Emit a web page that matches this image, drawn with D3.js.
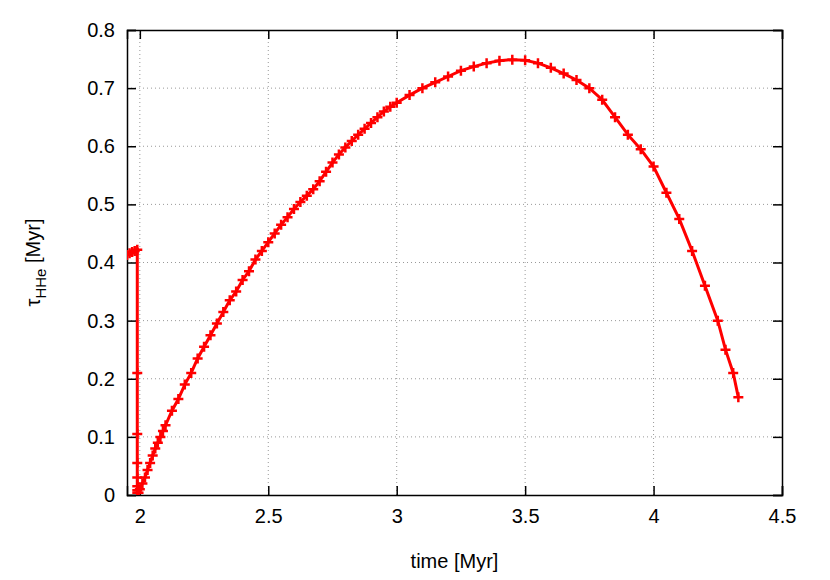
<!DOCTYPE html>
<html><head><meta charset="utf-8">
<script src="https://cdn.jsdelivr.net/npm/d3@7"></script>
<style>body{margin:0;background:#fff;font-family:"Liberation Sans",Arial,sans-serif;}</style>
</head><body>
<script>
var xs = [1.93,1.95,1.96,1.97,1.98,1.99, 1.99,1.99,1.99,1.99,1.99,1.99,1.99,
  1.995,2.0,2.01,2.02,2.03,2.04,2.05,2.06,2.07,2.08,2.09,2.1,2.125,2.15,2.175,2.2,2.225,2.25,2.275,2.3,2.325,2.35,2.375,2.4,2.425,2.45,2.475,2.5,
  2.525,2.55,2.575,2.6,2.625,2.65,2.675,2.7,2.725,2.75,2.775,2.8,2.825,2.85,2.875,2.9,2.925,2.95,2.975,3.0,3.05,3.1,3.15,3.2,3.25,3.3,3.35,3.4,3.45,3.5,3.55,3.6,3.65,3.7,3.75,3.8,3.85,3.9,3.95,4.0,4.05,4.1,4.15,4.2,4.25,4.28,4.31,4.33];
var ys = [0.41,0.413,0.416,0.418,0.42,0.422, 0.21,0.105,0.055,0.03,0.015,0.008,0.004,
  0.004,0.01,0.02,0.03,0.043,0.055,0.068,0.08,0.09,0.1,0.11,0.12,0.145,0.165,0.19,0.21,0.235,0.255,0.275,0.295,0.315,0.335,0.35,0.37,0.385,0.405,0.42,0.435,
  0.45,0.465,0.478,0.492,0.504,0.515,0.526,0.54,0.556,0.572,0.586,0.598,0.609,0.62,0.63,0.64,0.65,0.66,0.668,0.675,0.688,0.70,0.71,0.72,0.73,0.737,0.743,0.747,0.749,0.748,0.743,0.735,0.725,0.714,0.70,0.68,0.65,0.62,0.595,0.565,0.52,0.475,0.42,0.36,0.30,0.25,0.21,0.168];
var xTicks = [2,2.5,3,3.5,4,4.5];
var yTicks = [0,0.1,0.2,0.3,0.4,0.5,0.6,0.7,0.8];

var W = 830, H = 580, m = {l:127, r:48, t:30, b:85};
var svg = d3.select("body").append("svg").attr("width", W).attr("height", H);
var x = d3.scaleLinear().domain([1.95,4.5]).range([m.l, W-m.r]);
var y = d3.scaleLinear().domain([0,0.8]).range([H-m.b, m.t]);

// grid
svg.append("g").selectAll("line").data(xTicks.slice(0,-1)).join("line")
  .attr("x1", d=>x(d)).attr("x2", d=>x(d)).attr("y1", y(0)).attr("y2", y(0.8))
  .attr("stroke","#999").attr("stroke-dasharray","1,3");
svg.append("g").selectAll("line").data(yTicks.slice(1,-1)).join("line")
  .attr("x1", x(1.95)).attr("x2", x(4.5)).attr("y1", d=>y(d)).attr("y2", d=>y(d))
  .attr("stroke","#999").attr("stroke-dasharray","1,3");

var xa = svg.append("g").attr("transform","translate(0,"+(H-m.b)+")")
  .call(d3.axisBottom(x).tickValues(xTicks).tickSize(-9).tickPadding(14).tickFormat(d3.format("")));
var ya = svg.append("g").attr("transform","translate("+m.l+",0)")
  .call(d3.axisLeft(y).tickValues(yTicks).tickSize(-9).tickPadding(12).tickFormat(d3.format("")));
var xb = svg.append("g").attr("transform","translate(0,"+m.t+")")
  .call(d3.axisTop(x).tickValues(xTicks).tickSize(-9).tickFormat(""));
var yb = svg.append("g").attr("transform","translate("+(W-m.r)+",0)")
  .call(d3.axisRight(y).tickValues(yTicks).tickSize(-9).tickFormat(""));
[xa,ya,xb,yb].forEach(function(g){
  g.selectAll("path,line").attr("stroke","#000").attr("stroke-width",1.5);
  g.selectAll("text").attr("font-size",20).attr("fill","#000").attr("font-family","Liberation Sans, Arial, sans-serif");
});

svg.append("defs").append("clipPath").attr("id","clip").append("rect")
  .attr("x", m.l).attr("y", m.t).attr("width", W-m.l-m.r).attr("height", H-m.t-m.b);
var pts = xs.map(function(d,i){ return [d, ys[i]]; });
var g = svg.append("g").attr("clip-path","url(#clip)");
g.append("path").datum(pts)
  .attr("d", d3.line().x(d=>x(d[0])).y(d=>y(d[1])))
  .attr("fill","none").attr("stroke","#f00").attr("stroke-width",3);
g.selectAll("path.m").data(pts).join("path").attr("class","m")
  .attr("d", d=>"M"+(x(d[0])-5)+","+y(d[1])+"h10M"+x(d[0])+","+(y(d[1])-5)+"v10")
  .attr("stroke","#f00").attr("stroke-width",2.5);

svg.append("text").attr("x", (m.l+W-m.r)/2).attr("y", H-12).attr("text-anchor","middle")
  .attr("font-size",20).text("time [Myr]");
var t = svg.append("text").attr("transform","translate(40,"+((m.t+H-m.b)/2)+") rotate(-90)")
  .attr("text-anchor","middle").attr("font-size",20);
t.append("tspan").text("τ");
t.append("tspan").attr("dy",6).attr("font-size",15).text("HHe");
t.append("tspan").attr("dy",-6).text(" [Myr]");
</script>
</body></html>
